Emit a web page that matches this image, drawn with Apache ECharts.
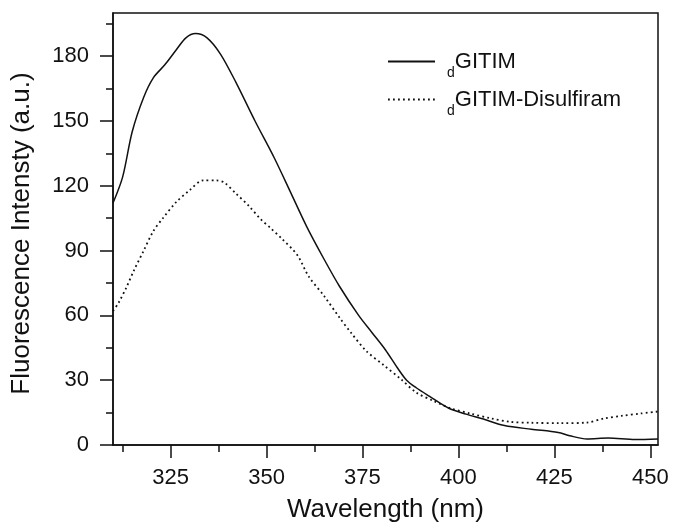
<!DOCTYPE html>
<html>
<head>
<meta charset="utf-8">
<script src="https://cdn.jsdelivr.net/npm/echarts@6/dist/echarts.min.js"></script>
<style>
html,body{margin:0;padding:0;background:#fff;}
#chart{width:673px;height:528px;}
</style>
</head>
<body>
<div id="chart"></div>
<script>
const seriesNames = ['GITIM', 'GITIM-Disulfiram'];

const wavelengthSolid = [310, 312.5, 315, 318, 320.5, 323.5, 326.5, 329, 331.5, 334.5, 338, 342, 347, 352, 356, 360.5, 365, 369, 374, 377.5, 381, 384, 386.5, 389, 392.5, 397.5, 402, 406.5, 412, 419, 426, 429, 433.5, 439, 446, 452];
const intensitySolid = [112, 124, 145, 161, 170, 176, 183, 188.5, 190.5, 188.5, 181, 168, 150, 133, 118, 101, 86, 73.5, 60, 52, 44, 36, 30, 26.5, 22.5, 17, 14.3, 12, 9, 7.3, 5.8, 4.3, 2.8, 3.2, 2.5, 2.8];

const wavelengthDotted = [310, 311.5, 313.5, 315.5, 318, 320.5, 323, 326.5, 330, 333.5, 337, 339, 342, 345.5, 348.5, 351, 354, 358, 361, 365, 369, 372, 376, 380.5, 385, 389, 393.5, 398, 403, 408.5, 413.5, 419, 426.5, 433.5, 438, 442.5, 447.5, 452];
const intensityDotted = [62, 66, 73, 81, 90, 99, 105, 112.5, 118, 122.5, 122.5, 121.5, 116.5, 110.5, 104.5, 100.5, 95.5, 88, 78, 69, 59, 52, 43.5, 37, 30.5, 24.3, 20.4, 17, 14.6, 12.3, 10.7, 10.3, 10.1, 10.4, 12.3, 13.5, 14.6, 15.5];

const xMajorTicks = [325, 350, 375, 400, 425, 450];
const xMinorTicks = [312.5, 337.5, 362.5, 387.5, 412.5, 437.5];
const yMajorTicks = [0, 30, 60, 90, 120, 150, 180];
const yMinorTicks = [15, 45, 75, 105, 135, 165, 195];

const FONT = 'Liberation Sans, Arial, sans-serif';
const INK = '#111';

const chart = echarts.init(document.getElementById('chart'), null, {renderer: 'canvas'});

function pairs(xs, ys) { return xs.map((x, i) => [x, ys[i]]); }

const xBase = {
  type: 'value', min: 310, max: 452, position: 'bottom', gridIndex: 0,
  splitLine: {show: false}
};
const yBase = {
  type: 'value', min: 0, max: 200, position: 'left', gridIndex: 0,
  splitLine: {show: false}
};

chart.setOption({
  animation: false,
  backgroundColor: '#fff',
  grid: {left: 113, right: 15, top: 13, bottom: 82, show: true, borderColor: INK, borderWidth: 1.5},
  legend: {
    orient: 'vertical', left: 387, top: 43, padding: 0,
    itemWidth: 47, itemHeight: 14, itemGap: 1,
    data: seriesNames,
    itemStyle: {color: 'rgba(0,0,0,0)', borderColor: 'rgba(0,0,0,0)', borderWidth: 0},
    formatter: name => '{sub|d}{main|' + name + '}',
    textStyle: {
      color: INK, fontFamily: FONT,
      rich: {
        sub: {fontSize: 14, lineHeight: 14, padding: [23, 0, 0, 7], color: INK, fontFamily: FONT},
        main: {fontSize: 22, lineHeight: 22, color: INK, fontFamily: FONT}
      }
    }
  },
  xAxis: [
    Object.assign({}, xBase, {
      name: 'Wavelength (nm)', nameLocation: 'middle', nameGap: 52,
      nameTextStyle: {fontSize: 26, color: INK, fontFamily: FONT},
      axisLine: {show: true, lineStyle: {color: INK, width: 1.5}},
      axisTick: {show: true, inside: false, length: 13, customValues: xMajorTicks, lineStyle: {color: INK, width: 1.5}},
      axisLabel: {show: true, customValues: xMajorTicks, margin: 22, fontSize: 22, color: INK, fontFamily: FONT}
    }),
    Object.assign({}, xBase, {
      axisLine: {show: false},
      axisTick: {show: true, inside: false, length: 7, customValues: xMinorTicks, lineStyle: {color: INK, width: 1.5}},
      axisLabel: {show: false}
    })
  ],
  yAxis: [
    Object.assign({}, yBase, {
      name: 'Fluorescence Intensty (a.u.)', nameLocation: 'middle', nameGap: 78, nameRotate: 90,
      nameTextStyle: {fontSize: 26, color: INK, fontFamily: FONT, padding: [0, 9, 0, 0]},
      axisLine: {show: true, lineStyle: {color: INK, width: 1.5}},
      axisTick: {show: true, inside: false, length: 13, customValues: yMajorTicks, lineStyle: {color: INK, width: 1.5}},
      axisLabel: {show: true, customValues: yMajorTicks, margin: 24, fontSize: 22, color: INK, fontFamily: FONT}
    }),
    Object.assign({}, yBase, {
      axisLine: {show: false},
      axisTick: {show: true, inside: false, length: 7, customValues: yMinorTicks, lineStyle: {color: INK, width: 1.5}},
      axisLabel: {show: false}
    })
  ],
  series: [
    {
      name: seriesNames[0], type: 'line', xAxisIndex: 0, yAxisIndex: 0,
      data: pairs(wavelengthSolid, intensitySolid),
      symbol: 'none', showSymbol: false, smooth: 0.3,
      lineStyle: {color: INK, width: 1.5, type: 'solid'},
      itemStyle: {color: INK}
    },
    {
      name: seriesNames[1], type: 'line', xAxisIndex: 0, yAxisIndex: 0,
      data: pairs(wavelengthDotted, intensityDotted),
      symbol: 'none', showSymbol: false, smooth: 0.3,
      lineStyle: {color: INK, width: 1.8, type: [1.8, 3.2]},
      itemStyle: {color: INK}
    }
  ]
});
</script>
</body>
</html>
